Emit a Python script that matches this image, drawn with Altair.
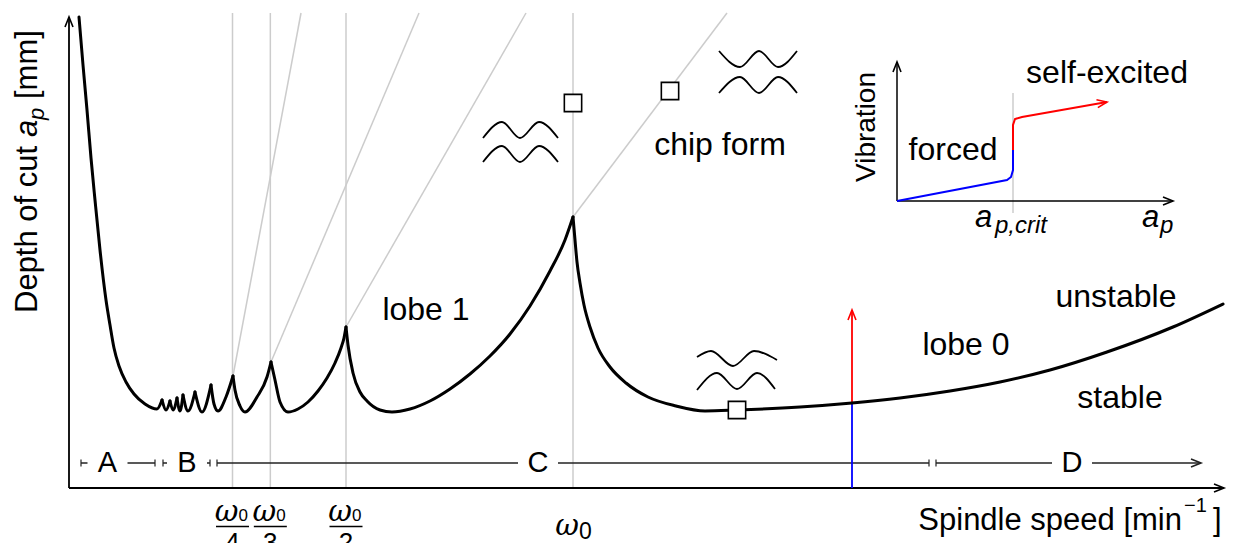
import altair as alt
import pandas as pd

# Speed axis in units where the natural frequency omega_0 = 454; depth of cut in arbitrary units.
OMEGA0 = 454

# Stability boundary, one list of (speed, depth) per lobe; cusps are shared between neighbours.
lobe_high_order = [(-40, 471), (-36, 423), (-32, 378), (-28, 330), (-24, 288), (-19, 238), (-13, 188),
                   (-9, 163), (-5, 140), (0, 122), (7, 106), (15, 94), (26, 84), (38, 79), (43, 88)]
lobe_t1 = [(43, 88), (47, 78), (51, 87)]
lobe_t2 = [(51, 87), (54, 78), (58, 90)]
lobe_t3 = [(58, 90), (61, 77), (64, 93)]
lobe_t4 = [(64, 93), (69, 77), (76, 96)]
lobe_t5 = [(76, 96), (83, 76), (92, 103)]
lobe_t6 = [(92, 103), (95, 84), (99, 77), (107, 91), (114, 112)]
lobe_4 = [(114, 112), (116, 98), (121, 82), (126, 76), (138, 91), (148, 111), (152, 126)]
lobe_3 = [(152, 126), (156, 108), (161, 86), (169, 76), (179, 79), (189, 86), (199, 97), (208, 110),
          (216, 125), (222, 140), (225, 150), (227, 161)]
lobe_1 = [(227, 161), (229, 143), (234, 115), (241, 96), (248, 87), (261, 78), (273, 76), (291, 79),
          (311, 87), (331, 99), (351, 114), (371, 132), (391, 154), (411, 182), (431, 217), (446, 248),
          (454, 271)]
lobe_0 = [(454, 271), (456, 248), (458, 226), (461, 205), (465, 183), (471, 161), (479, 140), (491, 121),
          (507, 105), (529, 91), (557, 82), (586, 77), (618, 78), (681, 81), (733, 85), (781, 90),
          (831, 97), (881, 106), (931, 118), (988, 136), (1054, 161), (1104, 184)]

# Lines of constant chip form: from each lobe cusp up to the top of the plot
chip_lines = [((114, 112), (182, 475)), ((152, 126), (300, 475)), ((227, 161), (407, 475)),
              ((454, 271), (608, 475))]
TOP = 475

# Chip-form markers
markers = [(454, 385), (551, 397), (618, 78)]

# Surface-wave glyphs (extrema of each wave)
waves = {
    "w1a": [(364, 350), (383, 366), (401, 350), (420, 366), (439, 350)],
    "w1b": [(364, 326), (383, 342), (401, 326), (420, 342), (439, 326)],
    "w2a": [(600, 437), (621, 421), (640, 437), (659, 421), (678, 437)],
    "w2b": [(600, 395), (621, 411), (640, 395), (659, 411), (678, 395)],
    "w3a": [(578, 131), (592, 137), (614, 122), (635, 137), (658, 128)],
    "w3b": [(578, 98), (598, 115), (618, 99), (638, 115), (656, 99)],
}

# Speed ranges A-D
range_names = ["A", "B", "C", "D"]
range_start = [-38, 44, 98, 817]
range_end = [36, 91, 810, 1082]
range_label = [-11.5, 68, 419, 953]
RANGE_D = 25

# Test cut at constant speed
test_speed = 733
test_limit = 85
test_top = 178

# Inset: vibration amplitude vs depth of cut
inset_origin = (778, 287)
inset_xmax = 1054
inset_ymax = 426
inset_crit = 894
inset_forced = [(778, 287), (888, 308), (892, 311), (894, 318), (894, 338)]
inset_self = [(894, 338), (894, 363), (896, 369), (903, 371), (988, 386)]

XS = alt.Scale(domain=[-119, 1116], nice=False, zero=False)
YS = alt.Scale(domain=[-55, 488], nice=False, zero=False)
SANS = "Liberation Sans"
GREEK = "DejaVu Serif"
CHEVRON = "M-1,-0.4L0,0L-1,0.4"
GRAY = "#cccccc"


def X(f="s"):
    return alt.X(f"{f}:Q", scale=XS, axis=None)


def Y(f="d"):
    return alt.Y(f"{f}:Q", scale=YS, axis=None)


def rules(rows, **mark):
    df = pd.DataFrame(rows, columns=["s", "d", "s2", "d2"])
    return alt.Chart(df).mark_rule(**mark).encode(x=X(), y=Y(), x2="s2:Q", y2="d2:Q")


def series(named, **mark):
    rows = [dict(seg=k, i=i, s=s, d=d) for k, pts in named.items() for i, (s, d) in enumerate(pts)]
    return alt.Chart(pd.DataFrame(rows)).mark_line(**mark).encode(
        x=X(), y=Y(), detail="seg:N", order="i:Q")


def texts(rows, **mark):
    df = pd.DataFrame(rows, columns=["t", "s", "d", "fs"])
    return alt.Chart(df).mark_text(baseline="alphabetic", color="black", **mark).encode(
        x=X(), y=Y(), text="t:N", size=alt.Size("fs:Q", scale=None))


layers = []

# gray guide lines
layers.append(rules([(OMEGA0 / n, 0, OMEGA0 / n, TOP) for n in (4, 3, 2, 1)], color=GRAY, strokeWidth=1.5))
layers.append(rules([(a[0], a[1], b[0], b[1]) for a, b in chip_lines], color=GRAY, strokeWidth=1.5))
layers.append(rules([(inset_crit, inset_origin[1] - 12, inset_crit, inset_origin[1] + 108)],
                    color=GRAY, strokeWidth=1.5))

# axes
layers.append(rules([(-50, 0, -50, 471), (-50, 0, 1105, 0)], color="black", strokeWidth=1.8))
layers.append(rules([(inset_origin[0], inset_origin[1], inset_origin[0], inset_ymax),
                     (inset_origin[0], inset_origin[1], inset_xmax, inset_origin[1])],
                    color="black", strokeWidth=1.5))

# speed ranges
seg_rows, tick_rows = [], []
for i, (a, b, m) in enumerate(zip(range_start, range_end, range_label)):
    seg_rows += [(a, RANGE_D, m - 20, RANGE_D), (m + 20, RANGE_D, b, RANGE_D)]
    tick_rows.append((a, RANGE_D - 3.5, a, RANGE_D + 3.5))
    if i < len(range_names) - 1:
        tick_rows.append((b, RANGE_D - 3.5, b, RANGE_D + 3.5))
layers.append(rules(seg_rows, color="#222222", strokeWidth=1.5))
layers.append(rules(tick_rows, color="#222222", strokeWidth=1.2))

# test cut: stable part in blue, chatter in red
layers.append(rules([(test_speed, 0, test_speed, test_limit)], color="#0000ff", strokeWidth=1.8))
layers.append(rules([(test_speed, test_limit, test_speed, test_top)], color="#ff0000", strokeWidth=1.8))

# stability boundary
boundary = {"hi": lobe_high_order, "t1": lobe_t1, "t2": lobe_t2, "t3": lobe_t3, "t4": lobe_t4,
            "t5": lobe_t5, "t6": lobe_t6, "l4": lobe_4, "l3": lobe_3, "l1": lobe_1, "l0": lobe_0}
layers.append(series(boundary, interpolate="monotone", color="black", strokeWidth=3, strokeCap="round"))

# wave glyphs
layers.append(series(waves, interpolate="monotone", color="black", strokeWidth=1.8))

# inset curves
layers.append(series({"f": inset_forced}, color="#0000ff", strokeWidth=2))
layers.append(series({"s": inset_self}, color="#ff0000", strokeWidth=2))

# markers
layers.append(alt.Chart(pd.DataFrame(markers, columns=["s", "d"])).mark_point(
    shape="square", size=300, filled=True, fill="white", stroke="black", strokeWidth=1.6, opacity=1
).encode(x=X(), y=Y()))

# arrowheads
arrows = pd.DataFrame([
    (-50, 471, 270, "black"), (1105, 0, 0, "black"), (1082, RANGE_D, 0, "#222222"),
    (test_speed, test_top, 270, "#ff0000"),
    (inset_origin[0], inset_ymax, 270, "black"), (inset_xmax, inset_origin[1], 0, "black"),
    (988, 386, 350, "#ff0000"),
], columns=["s", "d", "ang", "c"])
layers.append(alt.Chart(arrows).mark_point(
    shape=CHEVRON, size=400, filled=False, strokeWidth=1.6, opacity=1
).encode(x=X(), y=Y(), angle=alt.Angle("ang:Q", scale=None), color=alt.Color("c:N", scale=None)))

# labels
layers.append(texts([
    ("lobe 1", 307, 168, 32), ("lobe 0", 847, 133, 32), ("unstable", 997, 181, 32),
    ("stable", 1001, 80, 32), ("chip form", 601, 333, 32), ("forced", 834, 328, 32),
    ("self-excited", 988, 405, 32),
] + [(n, m, 16, 29) for n, m in zip(range_names, range_label)], font=SANS, align="center"))

# x-axis title
layers.append(texts([("Spindle speed [min", 1063, -42, 31)], font=SANS, align="right"))
layers.append(texts([("\u22121", 1065, -24, 20), ("]", 1094, -42, 31)], font=SANS, align="left"))

# y-axis title (rotated)
layers.append(texts([("Depth of cut", -82, 175, 31), ("[mm]", -82, 389, 31)],
                    font=SANS, align="left", angle=270))
layers.append(texts([("a", -82, 351, 31), ("p", -75, 368, 22)],
                    font=SANS, align="left", angle=270, fontStyle="italic"))
layers.append(texts([("Vibration", 756, 361, 28)], font=SANS, align="center", angle=270))

# inset axis labels
layers.append(texts([("a", 856, 261, 31), ("p,crit", 876, 255, 24), ("a", 1023, 261, 31),
                     ("p", 1041, 255, 24)], font=SANS, align="left", fontStyle="italic"))

# omega tick labels
fracs = [4, 3, 2]
layers.append(texts([("\u03c9", OMEGA0 / n, -33, 29) for n in fracs] + [("\u03c9", OMEGA0, -47, 29)],
                    font=GREEK, align="center", dx=-6, fontStyle="italic"))
layers.append(texts([("0", OMEGA0 / n, -33, 17) for n in fracs] + [("0", OMEGA0, -51, 23)],
                    font=SANS, align="left", dx=6))
layers.append(rules([(OMEGA0 / n - 16.5, -38.5, OMEGA0 / n + 16.5, -38.5) for n in fracs],
                    color="black", strokeWidth=1.5))
layers.append(texts([(str(n), OMEGA0 / n, -63, 26) for n in fracs], font=SANS, align="center"))

chart = alt.layer(*layers).properties(
    width=1235, height=543, padding=0, background="white",
    autosize=alt.AutoSizeParams(type="none"),
).configure_view(stroke=None)

chart.save("out.html", embed_options={"renderer": "svg", "actions": False})
